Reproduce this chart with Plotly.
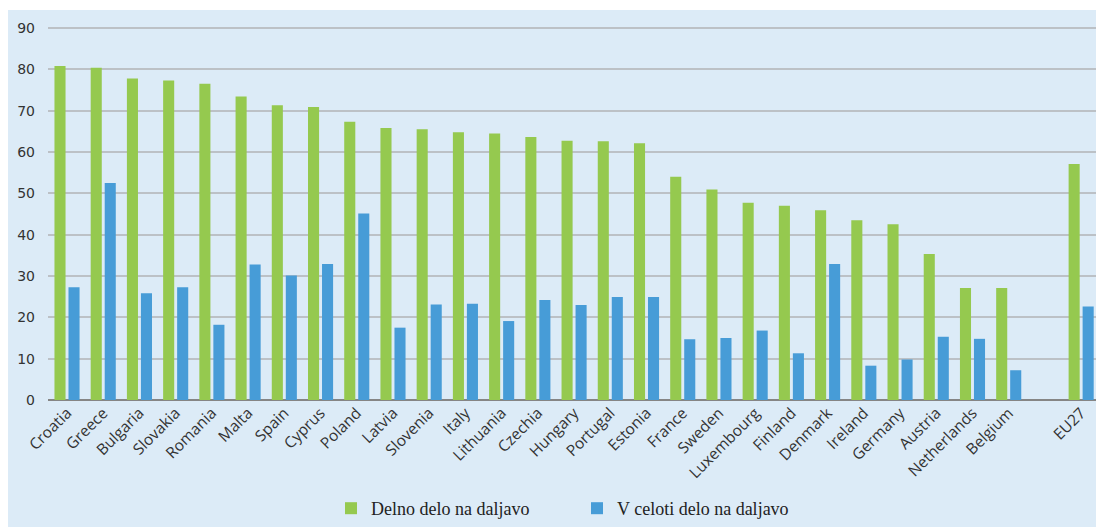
import plotly.graph_objects as go

categories = ["Croatia", "Greece", "Bulgaria", "Slovakia", "Romania", "Malta", "Spain", "Cyprus",
              "Poland", "Latvia", "Slovenia", "Italy", "Lithuania", "Czechia", "Hungary", "Portugal",
              "Estonia", "France", "Sweden", "Luxembourg", "Finland", "Denmark", "Ireland", "Germany",
              "Austria", "Netherlands", "Belgium", " ", "EU27"]

delno = [80.8, 80.4, 77.8, 77.3, 76.5, 73.4, 71.3, 70.9, 67.3, 65.8, 65.5, 64.8, 64.5, 63.6,
         62.7, 62.6, 62.1, 54.0, 50.9, 47.7, 47.0, 45.9, 43.5, 42.5, 35.3, 27.1, 27.1, None, 57.1]

v_celoti = [27.3, 52.5, 25.8, 27.3, 18.2, 32.8, 30.1, 32.9, 45.1, 17.5, 23.1, 23.3, 19.1, 24.2,
            23.0, 24.9, 24.9, 14.7, 15.0, 16.8, 11.3, 32.9, 8.3, 9.8, 15.3, 14.8, 7.2, None, 22.6]

series_names = ["Delno delo na daljavo", "V celoti delo na daljavo"]
y_ticks = [0, 10, 20, 30, 40, 50, 60, 70, 80, 90]

GREEN = "#95c94f"
BLUE = "#479cd7"
BG = "#dcebf7"

fig = go.Figure()
fig.add_trace(go.Bar(x=categories, y=delno, name=series_names[0], marker_color=GREEN,
                     marker_line_width=0))
fig.add_trace(go.Bar(x=categories, y=v_celoti, name=series_names[1], marker_color=BLUE,
                     marker_line_width=0))

W, H = 1096, 527
L, R, T, B = 48, 0, 10, 127
pw = W - L - R
ph = H - T - B

fig.update_layout(
    width=W, height=H,
    margin=dict(l=L, r=R, t=T, b=B, pad=0, autoexpand=False),
    paper_bgcolor="white",
    plot_bgcolor="rgba(0,0,0,0)",
    barmode="group",
    bargap=0.226,
    bargroupgap=0.21,
    showlegend=True,
    legend=dict(
        orientation="h",
        x=(331 - L) / pw, xanchor="left",
        y=(400 - 527) / ph, yanchor="bottom",
        bgcolor="rgba(0,0,0,0)",
        font=dict(family="Liberation Serif", size=18, color="#222222"),
        entrywidth=201,
        entrywidthmode="pixels",
        traceorder="normal",
    ),
    shapes=[dict(
        type="rect", xref="paper", yref="paper", layer="below",
        x0=(8 - L) / pw, x1=1.01, y0=(400 - 530) / ph, y1=1,
        fillcolor=BG, line_width=0,
    )],
    xaxis=dict(
        type="category",
        range=[-0.525, 28.41],
        tickangle=-45,
        tickfont=dict(family="Open Sans", size=15.5, color="#333333"),
        showgrid=False,
        showline=False,
        ticks="",
        zeroline=False,
        automargin=False,
    ),
    yaxis=dict(
        range=[0, 90 * ph / 372],
        tickvals=y_ticks,
        tickfont=dict(family="DejaVu Sans", size=14, color="#333333"),
        showgrid=True,
        gridcolor="#bcc1c6",
        gridwidth=1.5,
        zeroline=True,
        zerolinecolor="#858585",
        zerolinewidth=1.5,
        ticks="",
        ticklabelstandoff=12,
        automargin=False,
    ),
)

fig.write_html("out.html")
